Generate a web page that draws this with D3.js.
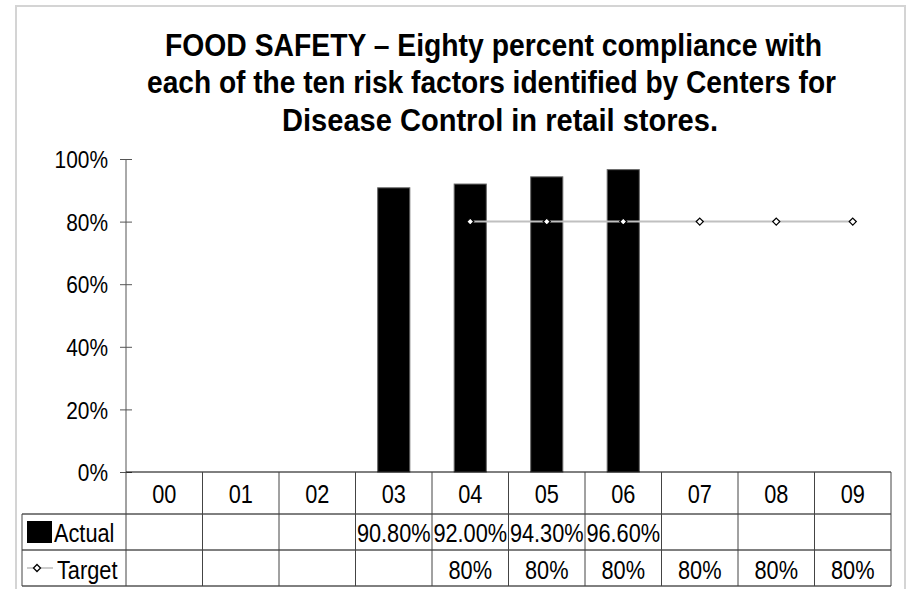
<!DOCTYPE html>
<html><head><meta charset="utf-8">
<script src="https://cdn.jsdelivr.net/npm/d3@7"></script>
<style>body{margin:0;background:#fff}svg{display:block}text{font-family:"Liberation Sans",Arial,sans-serif}</style>
</head><body><svg id="c" width="910" height="589"></svg>
<script>
const categories = ["00","01","02","03","04","05","06","07","08","09"];
const actual = [null,null,null,90.8,92.0,94.3,96.6,null,null,null];
const target = [null,null,null,null,80,80,80,80,80,80];
const yTicks = [0,20,40,60,80,100];
const titleLines = ["FOOD SAFETY \u2013 Eighty percent compliance with","each of the ten risk factors identified by Centers for","Disease Control in retail stores."];
const seriesNames = ["Actual","Target"];

const svg = d3.select("#c");
const left = 126, right = 891, yTop = 159, yBot = 472;
const rowA = 514, rowB = 550, rowC = 586, tableLeft = 22;
const FS = 25, SX = 0.87;

function txt(parent, x, y, s, anchor, fs, sx, weight) {
  return parent.append("text")
    .attr("transform", `translate(${x},${y}) scale(${sx},1)`)
    .attr("text-anchor", anchor || "middle")
    .attr("font-size", fs).attr("font-weight", weight || "normal")
    .attr("fill", "#000").text(s);
}

svg.append("rect").attr("x",16).attr("y",6).attr("width",889).attr("height",620)
  .attr("fill","#fff").attr("stroke","#d4d4d4").attr("stroke-width",2);

// title
const tLeft = [165, 147, 282], tWidth = [657, 689, 436], tBase = [56, 93, 131];
svg.append("g").selectAll("text").data(titleLines).join("text")
  .attr("x",(d,i)=>tLeft[i]).attr("y",(d,i)=>tBase[i])
  .attr("textLength",(d,i)=>tWidth[i]).attr("lengthAdjust","spacingAndGlyphs")
  .attr("font-size",31).attr("font-weight","bold").attr("fill","#000").text(d=>d);

const x = d3.scaleBand().domain(categories).range([left,right]).padding(0);
const y = d3.scaleLinear().domain([0,100]).range([yBot,yTop]);

// y axis
const yAxis = svg.append("g").attr("transform",`translate(${left},0)`)
  .call(d3.axisLeft(y).tickValues(yTicks).tickFormat(d=>d+"%").tickSize(6).tickPadding(18));
yAxis.select(".domain").attr("stroke","#555").attr("d",`M0,${yTop}V${yBot}`);
yAxis.selectAll(".tick line").attr("stroke","#555").attr("x1",-6).attr("x2",6);
yAxis.selectAll(".tick text").attr("font-size",24).attr("fill","#000")
  .attr("font-family","Liberation Sans, Arial, sans-serif")
  .attr("transform",`scale(${SX},1)`).attr("x",-18/SX).attr("dy","0.36em");

// bars
const bw = x.bandwidth()*0.42;
svg.append("g").selectAll("rect").data(categories.map((c,i)=>({c,v:actual[i]})).filter(d=>d.v!=null))
  .join("rect").attr("x",d=>x(d.c)+(x.bandwidth()-bw)/2).attr("width",bw)
  .attr("y",d=>y(d.v)).attr("height",d=>y(0)-y(d.v))
  .attr("fill","#000").attr("stroke","#666").attr("stroke-width",1);

// target line
const tdata = categories.map((c,i)=>({c,v:target[i]})).filter(d=>d.v!=null);
svg.append("path").datum(tdata)
  .attr("d",d3.line().x(d=>x(d.c)+x.bandwidth()/2).y(d=>y(d.v)))
  .attr("fill","none").attr("stroke","#c0c0c0").attr("stroke-width",2);
const diamond = "M0,-3.5L3.5,0L0,3.5L-3.5,0Z";
svg.append("g").selectAll("path").data(tdata).join("path")
  .attr("transform",d=>`translate(${x(d.c)+x.bandwidth()/2},${y(d.v)})`)
  .attr("d",diamond).attr("fill","#fff").attr("stroke","#000").attr("stroke-width",1.3);

// table
const g = svg.append("g");
g.append("line").attr("x1",left).attr("x2",right).attr("y1",yBot).attr("y2",yBot).attr("stroke","#000");
[rowA,rowB,rowC].forEach(yy=>g.append("line").attr("x1",tableLeft).attr("x2",right).attr("y1",yy).attr("y2",yy).attr("stroke","#000"));
categories.forEach(c=>g.append("line").attr("x1",x(c)).attr("x2",x(c)).attr("y1",yBot).attr("y2",rowC).attr("stroke","#444"));
g.append("line").attr("x1",right).attr("x2",right).attr("y1",yBot).attr("y2",rowC).attr("stroke","#444");
g.append("line").attr("x1",tableLeft).attr("x2",tableLeft).attr("y1",rowA).attr("y2",rowC).attr("stroke","#444");

categories.forEach(c => txt(g, x(c)+x.bandwidth()/2, 503, c, "middle", FS, SX));
categories.forEach((c,i) => { if (actual[i]!=null) txt(g, x(c)+x.bandwidth()/2, 542, actual[i].toFixed(2)+"%", "middle", FS, SX); });
tdata.forEach(d => txt(g, x(d.c)+x.bandwidth()/2, 579, d.v+"%", "middle", FS, SX));

// legend keys
g.append("rect").attr("x",27).attr("y",rowA+7).attr("width",25).attr("height",22).attr("fill","#000");
txt(g, 54, 542, seriesNames[0], "start", FS, SX);
g.append("line").attr("x1",27).attr("x2",53).attr("y1",(rowB+rowC)/2).attr("y2",(rowB+rowC)/2).attr("stroke","#999").attr("stroke-width",1);
g.append("path").attr("transform",`translate(37,${(rowB+rowC)/2})`).attr("d",diamond).attr("fill","#fff").attr("stroke","#000").attr("stroke-width",1.3);
txt(g, 57, 579, seriesNames[1], "start", FS, SX);
</script></body></html>
